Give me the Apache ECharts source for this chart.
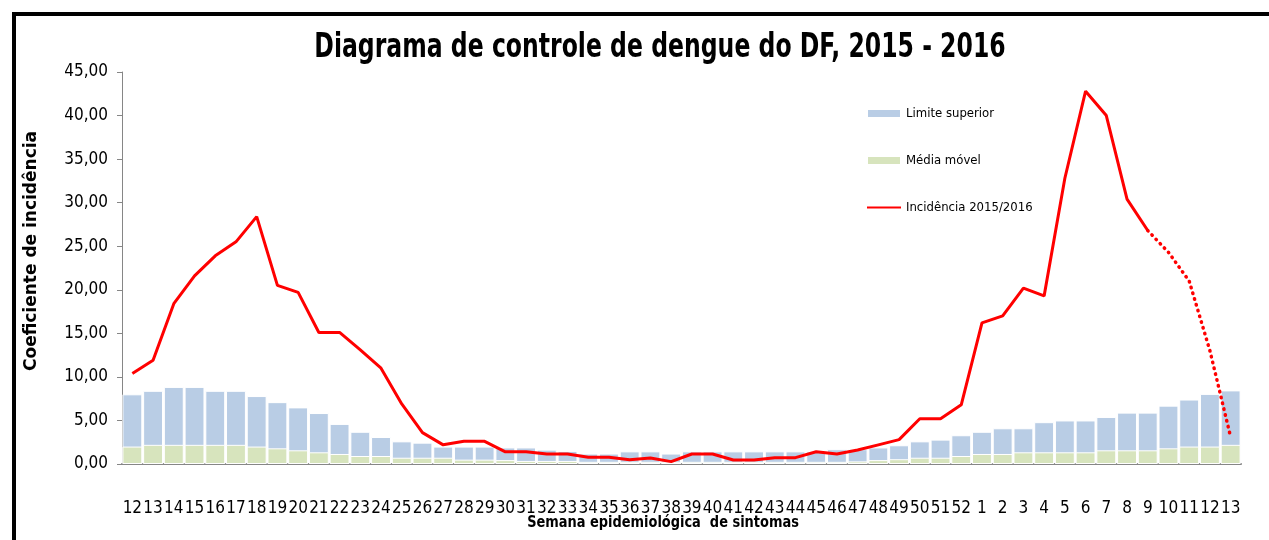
<!DOCTYPE html>
<html><head><meta charset="utf-8">
<script src="https://cdn.jsdelivr.net/npm/echarts@6/dist/echarts.min.js"></script>
<style>html,body{margin:0;padding:0;background:#fff}#c{width:1269px;height:540px}</style>
</head><body><div id="c"></div>
<script>
const weeks = ['12','13','14','15','16','17','18','19','20','21','22','23','24','25','26','27','28','29','30','31','32','33','34','35','36','37','38','39','40','41','42','43','44','45','46','47','48','49','50','51','52','1','2','3','4','5','6','7','8','9','10','11','12','13'];
const limiteSuperior = [8.0,8.4,8.85,8.85,8.4,8.4,7.8,7.1,6.5,5.85,4.6,3.7,3.1,2.6,2.45,2.0,2.0,2.0,1.9,1.9,1.65,1.5,1.2,1.2,1.45,1.45,1.2,1.45,1.45,1.45,1.45,1.45,1.45,1.45,1.7,1.7,1.9,2.15,2.6,2.8,3.3,3.7,4.1,4.1,4.8,5.0,5.0,5.4,5.9,5.9,6.7,7.4,8.05,8.45];
const mediaMovel = [2.0,2.2,2.2,2.2,2.2,2.2,2.0,1.8,1.57,1.34,1.15,0.92,0.92,0.72,0.72,0.72,0.5,0.5,0.45,0.35,0.35,0.35,0.25,0.25,0.25,0.25,0.25,0.25,0.25,0.25,0.25,0.25,0.25,0.25,0.25,0.3,0.45,0.55,0.72,0.72,0.92,1.15,1.15,1.34,1.34,1.34,1.34,1.57,1.57,1.57,1.8,2.0,2.0,2.2];
const incidencia = [10.4,11.9,18.4,21.6,23.9,25.5,28.4,20.5,19.7,15.1,15.1,13.1,11.0,6.9,3.6,2.2,2.6,2.6,1.4,1.4,1.15,1.15,0.77,0.77,0.5,0.7,0.27,1.15,1.15,0.46,0.46,0.73,0.73,1.4,1.15,1.6,2.2,2.8,5.2,5.2,6.8,16.2,17.0,20.2,19.3,32.8,42.8,40.0,30.4,26.8,24.3,21.0,13.0,3.1];
const yTicks = [0,5,10,15,20,25,30,35,40,45];
const lastSolid = 49; // week 9 of 2016

const solid = incidencia.map((v,i)=> i<=lastSolid ? v : null);
const dotted = incidencia.map((v,i)=> i>=lastSolid ? v : null);

const FONT = '"Liberation Sans Narrow","DejaVu Sans Condensed",sans-serif';
const chart = echarts.init(document.getElementById('c'));
chart.setOption({
  animation:false,
  backgroundColor:'#fff',
  graphic:[
    {type:'rect',shape:{x:14,y:14,width:1400,height:700},style:{fill:'none',stroke:'#000',lineWidth:4},silent:true},
    {type:'text',x:660,y:48,scaleX:0.77,style:{text:'Diagrama de controle de dengue do DF, 2015 - 2016',align:'center',verticalAlign:'middle',
      font:'bold 34px '+FONT,fill:'#000'}},
    {type:'text',x:663,y:523,scaleX:0.9,style:{text:'Semana epidemiológica  de sintomas',align:'center',verticalAlign:'middle',
      font:'bold 16px '+FONT,fill:'#000'}},
    {type:'text',x:32,y:251,rotation:Math.PI/2,style:{text:'Coeficiente de incidência',align:'center',verticalAlign:'middle',
      font:'bold 17px "DejaVu Sans",sans-serif',fill:'#000'}}
  ],
  legend:{orient:'vertical',left:861,top:102,itemGap:34,itemWidth:34,itemHeight:9,
    textStyle:{fontFamily:FONT,fontSize:13,color:'#000'},
    data:[{name:'Limite superior',icon:'rect'},{name:'Média móvel',icon:'rect'},{name:'Incidência 2015/2016',itemStyle:{opacity:0}}]},
  grid:{left:122,right:28,top:72,bottom:76,containLabel:false},
  xAxis:{type:'category',data:weeks,
    axisLine:{lineStyle:{color:'#868686',width:2}},axisTick:{show:false},
    axisLabel:{interval:0,margin:36,fontFamily:FONT,fontSize:17,color:'#000'}},
  yAxis:{type:'value',min:0,max:45,interval:5,
    axisLine:{show:true,lineStyle:{color:'#868686',width:1}},
    axisTick:{show:true,length:5,lineStyle:{color:'#868686'}},
    splitLine:{show:false},
    axisLabel:{margin:14,fontFamily:FONT,fontSize:17,color:'#000',
      formatter:v=> yTicks.includes(v) ? v.toFixed(2).replace('.',',') : ''}},
  series:[
    {name:'Limite superior',type:'bar',data:limiteSuperior,barCategoryGap:'4%',barGap:'-100%',
      itemStyle:{color:'#B9CDE5',borderColor:'#fff',borderWidth:1}},
    {name:'Média móvel',type:'bar',data:mediaMovel,barCategoryGap:'4%',barGap:'-100%',
      itemStyle:{color:'#D7E4BD',borderColor:'#fff',borderWidth:1}},
    {name:'Incidência 2015/2016',type:'line',data:solid,symbol:'none',
      itemStyle:{color:'#FF0000'},lineStyle:{color:'#FF0000',width:3},z:5},
    {name:'Incidência (dotted)',type:'line',data:dotted,symbol:'none',
      lineStyle:{color:'#FF0000',width:3.5,type:[0.5,5.5],cap:'round'},z:5}
  ]
});
</script></body></html>
